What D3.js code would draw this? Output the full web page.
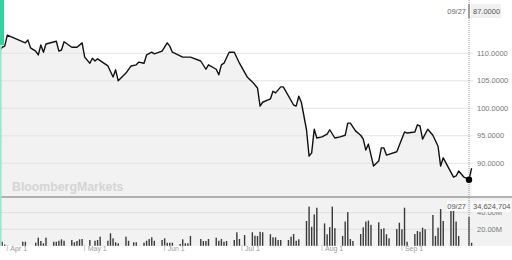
<!DOCTYPE html>
<html>
<head>
<meta charset="utf-8">
<script src="https://cdn.jsdelivr.net/npm/d3@7"></script>
<style>
  body { margin: 0; background: #fff; }
  svg { display: block; font-family: "Liberation Sans", Arial, sans-serif; }
</style>
</head>
<body>
<svg id="chart" width="512" height="260"></svg>
<script>
// closing prices
var priceDates = ["2021-03-29","2021-03-30","2021-03-31","2021-04-01","2021-04-08","2021-04-09","2021-04-10",
  "2021-04-12","2021-04-13","2021-04-14","2021-04-15","2021-04-16","2021-04-20","2021-04-21","2021-04-22",
  "2021-04-23","2021-04-26","2021-04-28","2021-04-30","2021-05-01","2021-05-03","2021-05-04","2021-05-05",
  "2021-05-06","2021-05-10","2021-05-12","2021-05-13","2021-05-14","2021-05-17","2021-05-19","2021-05-21",
  "2021-05-22","2021-05-24","2021-05-25","2021-05-27","2021-05-28","2021-05-31","2021-06-02","2021-06-03",
  "2021-06-04","2021-06-08","2021-06-11","2021-06-15","2021-06-17","2021-06-18","2021-06-21","2021-06-22",
  "2021-06-23","2021-06-24","2021-06-26","2021-06-28","2021-06-30","2021-07-03","2021-07-05","2021-07-07",
  "2021-07-08","2021-07-09","2021-07-12","2021-07-13","2021-07-14","2021-07-16","2021-07-17","2021-07-21",
  "2021-07-22","2021-07-23","2021-07-24","2021-07-26","2021-07-27","2021-07-28","2021-07-29","2021-07-30",
  "2021-08-01","2021-08-03","2021-08-04","2021-08-06","2021-08-08","2021-08-10","2021-08-11","2021-08-12",
  "2021-08-14","2021-08-16","2021-08-17","2021-08-18","2021-08-19","2021-08-21","2021-08-23","2021-08-24",
  "2021-08-25","2021-08-26","2021-08-30","2021-09-02","2021-09-03","2021-09-06","2021-09-07","2021-09-08",
  "2021-09-09","2021-09-11","2021-09-13","2021-09-15","2021-09-16","2021-09-17","2021-09-21","2021-09-22",
  "2021-09-23","2021-09-25","2021-09-26","2021-09-27","2021-09-28"];
var priceValues = [110.5,111.1,111.3,113.3,111.9,112.4,111.0,
  110.4,109.7,111.5,110.2,111.7,112.2,110.4,110.6,
  112.1,111.1,111.1,111.9,109.3,108.2,109.1,108.6,
  109.0,107.7,105.7,107.0,105.0,106.4,107.7,107.9,
  108.4,108.2,109.7,110.2,109.9,110.4,111.9,111.3,
  110.2,109.3,109.3,108.6,107.1,107.9,107.1,106.1,
  107.9,108.2,110.2,110.2,108.2,105.7,104.8,103.7,
  100.4,101.1,101.7,103.1,102.8,103.9,103.9,100.6,
  100.4,102.2,101.1,96.1,91.3,91.9,96.2,94.6,
  94.8,95.3,96.1,94.6,94.8,95.1,97.3,97.3,
  95.9,95.1,94.4,92.4,93.5,89.5,90.4,92.8,
  92.8,91.5,92.1,95.7,95.5,95.7,97.0,96.8,
  94.4,96.2,95.1,93.1,89.5,91.0,87.5,87.7,
  88.6,87.5,87.3,87.0,89.1];

// daily volume, millions of shares
var volumeDates = ["2021-03-30","2021-03-31","2021-04-07","2021-04-08",
  "2021-04-12","2021-04-13","2021-04-14","2021-04-15","2021-04-16",
  "2021-04-19","2021-04-20","2021-04-21","2021-04-22","2021-04-23",
  "2021-04-26","2021-04-27","2021-04-28","2021-04-29","2021-04-30",
  "2021-05-03","2021-05-05","2021-05-06","2021-05-07",
  "2021-05-10","2021-05-11","2021-05-12","2021-05-13","2021-05-14",
  "2021-05-17","2021-05-18","2021-05-20","2021-05-21",
  "2021-05-24","2021-05-25","2021-05-26","2021-05-27","2021-05-28",
  "2021-05-31","2021-06-01","2021-06-02","2021-06-03","2021-06-04",
  "2021-06-07","2021-06-08","2021-06-09","2021-06-10","2021-06-11",
  "2021-06-15","2021-06-16","2021-06-17","2021-06-18",
  "2021-06-21","2021-06-22","2021-06-23","2021-06-24","2021-06-25",
  "2021-06-28","2021-06-29","2021-06-30","2021-07-02",
  "2021-07-05","2021-07-06","2021-07-07","2021-07-08","2021-07-09",
  "2021-07-12","2021-07-13","2021-07-14","2021-07-15","2021-07-16",
  "2021-07-19","2021-07-20","2021-07-21","2021-07-22","2021-07-23",
  "2021-07-26","2021-07-27","2021-07-28","2021-07-29","2021-07-30",
  "2021-08-02","2021-08-03","2021-08-04","2021-08-05","2021-08-06",
  "2021-08-09","2021-08-10","2021-08-11","2021-08-12","2021-08-13",
  "2021-08-16","2021-08-17","2021-08-18","2021-08-19","2021-08-20",
  "2021-08-23","2021-08-24","2021-08-25","2021-08-26","2021-08-27",
  "2021-08-30","2021-08-31","2021-09-01","2021-09-02","2021-09-03",
  "2021-09-06","2021-09-07","2021-09-08","2021-09-09","2021-09-10",
  "2021-09-13","2021-09-14","2021-09-15","2021-09-16","2021-09-17",
  "2021-09-20","2021-09-21","2021-09-22","2021-09-23","2021-09-27","2021-09-28"];
var volumeValues = [4.9,1.5,4.9,4.9,
  3.7,9.8,5.8,3.0,9.8,
  4.9,4.9,6.1,7.8,6.1,
  7.0,4.2,5.8,7.8,8.2,
  7.0,6.1,7.0,11.0,
  6.1,15.1,9.0,4.2,3.0,
  11.0,6.1,4.2,4.2,
  3.7,6.1,8.2,10.2,6.1,
  7.0,9.0,3.7,3.7,3.7,
  2.2,7.8,3.0,3.0,11.9,
  8.2,5.8,5.8,8.2,
  9.8,6.1,8.2,4.9,5.8,
  7.0,16.3,8.2,13.0,
  16.3,12.2,11.8,16.9,16.3,
  13.9,10.2,10.2,7.0,7.0,
  7.0,11.0,14.2,6.1,7.8,
  29.9,47.2,22.9,37.8,45.9,
  27.0,13.9,22.5,47.2,21.3,
  11.9,29.3,40.6,8.2,5.8,
  14.2,22.3,29.2,30.4,25.3,
  28.3,20.2,21.1,13.9,9.0,
  20.2,27.8,19.9,45.9,4.9,
  14.2,17.8,16.9,21.8,19.9,
  37.1,11.9,21.8,44.3,29.9,
  46.0,46.0,29.2,11.8,34.624704,3.7];

var priceTicks = [90, 95, 100, 105, 110];
var volumeTicks = [20, 40];
var monthTicks = ["2021-04-01","2021-05-01","2021-06-01","2021-07-01","2021-08-01","2021-09-01"];
var lastDate = "2021-09-27";
var lastPrice = 87.0;
var lastVolume = 34624704;

var parse = d3.utcParse("%Y-%m-%d");
var parseHour = d3.utcParse("%Y-%m-%dT%H");

var svg = d3.select("#chart");
var W = 512;
var plotRight = 469;
var priceBottom = 197;
var volTop = 197;
var volBottom = 246;

var x = d3.scaleUtc()
  .domain([parseHour("2021-03-29T04"), parse(lastDate)])
  .range([0, plotRight]);
var y = d3.scaleLinear().domain([90, 110]).range([163.3, 53.3]);
var yv = d3.scaleLinear().domain([0, 40]).range([245.8, 212.6]);

var prices = priceDates.map(function(d, i) { return { date: parse(d), value: priceValues[i] }; });
var volumes = volumeDates.map(function(d, i) { return { date: parse(d), value: volumeValues[i] }; });

svg.append("clipPath").attr("id", "clipPrice")
  .append("rect").attr("x", 0).attr("y", 0).attr("width", 476).attr("height", priceBottom);
svg.append("clipPath").attr("id", "clipVol")
  .append("rect").attr("x", 0).attr("y", volTop).attr("width", 476).attr("height", volBottom - volTop);

// volume panel background
svg.append("rect")
  .attr("x", 0).attr("y", volTop)
  .attr("width", W).attr("height", volBottom - volTop)
  .attr("fill", "#f2f2f2");

// area under price
var area = d3.area()
  .x(function(d) { return x(d.date); })
  .y0(priceBottom)
  .y1(function(d) { return y(d.value); });
svg.append("path")
  .datum(prices)
  .attr("clip-path", "url(#clipPrice)")
  .attr("d", area)
  .attr("fill", "#f2f2f2");

// price grid + labels
var pAxis = svg.append("g");
priceTicks.forEach(function(t) {
  pAxis.append("line")
    .attr("x1", 0).attr("x2", 473)
    .attr("y1", y(t)).attr("y2", y(t))
    .attr("stroke", "#e3e3e3").attr("stroke-width", 1);
  pAxis.append("text")
    .attr("x", 477).attr("y", y(t) + 2.5)
    .attr("font-size", 7.5).attr("fill", "#777")
    .text(d3.format(".4f")(t));
});

// volume grid + labels
volumeTicks.forEach(function(t) {
  svg.append("line")
    .attr("x1", 0).attr("x2", 473)
    .attr("y1", yv(t)).attr("y2", yv(t))
    .attr("stroke", "#e0e0e0").attr("stroke-width", 1);
  svg.append("text")
    .attr("x", 477).attr("y", yv(t) + 2.5)
    .attr("font-size", 7.5).attr("fill", "#777")
    .text(d3.format(".2f")(t) + "M");
});

// watermark
svg.append("text")
  .attr("x", 12).attr("y", 191)
  .attr("font-size", 12.3).attr("font-weight", "bold")
  .attr("fill", "#d4d4d4")
  .text("BloombergMarkets");

// price line
var line = d3.line()
  .x(function(d) { return x(d.date); })
  .y(function(d) { return y(d.value); });
svg.append("path")
  .datum(prices)
  .attr("clip-path", "url(#clipPrice)")
  .attr("d", line)
  .attr("fill", "none")
  .attr("stroke", "#111")
  .attr("stroke-width", 1.4)
  .attr("stroke-linejoin", "round");

// volume bars
svg.append("g")
  .attr("clip-path", "url(#clipVol)")
  .selectAll("rect")
  .data(volumes)
  .join("rect")
  .attr("x", function(d) { return x(d.date) - 0.7; })
  .attr("y", function(d) { return yv(d.value); })
  .attr("width", 1.4)
  .attr("height", function(d) { return yv(0) - yv(d.value); })
  .attr("fill", "#3a3a3a");

// panel separator
svg.append("line")
  .attr("x1", 0).attr("x2", W)
  .attr("y1", priceBottom).attr("y2", priceBottom)
  .attr("stroke", "#9a9a9a").attr("stroke-width", 1.5);

// x axis
monthTicks.forEach(function(m) {
  var xm = x(parse(m));
  svg.append("line")
    .attr("x1", xm).attr("x2", xm)
    .attr("y1", 245).attr("y2", 251)
    .attr("stroke", "#bbb").attr("stroke-width", 0.8);
  svg.append("text")
    .attr("x", xm + 3).attr("y", 250.5)
    .attr("font-size", 7).attr("fill", "#9a9a9a")
    .text(d3.utcFormat("%b")(parse(m)) + " 1");
});

// crosshair at last date
var xl = x(parse(lastDate));
svg.append("line")
  .attr("x1", xl).attr("x2", xl)
  .attr("y1", 0).attr("y2", volBottom)
  .attr("stroke", "#999").attr("stroke-width", 1)
  .attr("stroke-dasharray", "1,1");
svg.append("line")
  .attr("x1", xl).attr("x2", xl)
  .attr("y1", 4).attr("y2", 18)
  .attr("stroke", "#888").attr("stroke-width", 1.5);

svg.append("circle")
  .attr("cx", xl).attr("cy", y(lastPrice))
  .attr("r", 3.2).attr("fill", "#000");

// top readout
svg.append("rect")
  .attr("x", 471).attr("y", 4).attr("width", 30).attr("height", 14)
  .attr("fill", "#f0f0f0");
svg.append("text")
  .attr("x", 473).attr("y", 13.5)
  .attr("font-size", 7.5).attr("fill", "#555")
  .text(d3.format(".4f")(lastPrice));
svg.append("text")
  .attr("x", xl - 3).attr("y", 13.5)
  .attr("text-anchor", "end")
  .attr("font-size", 7.5).attr("fill", "#666")
  .text(d3.utcFormat("%m/%d")(parse(lastDate)));

// volume readout
svg.append("rect")
  .attr("x", 447).attr("y", 201).attr("width", 20).attr("height", 10)
  .attr("fill", "#fafafa");
svg.append("rect")
  .attr("x", 471).attr("y", 201).attr("width", 40).attr("height", 11)
  .attr("fill", "#fafafa");
svg.append("text")
  .attr("x", xl - 3).attr("y", 209)
  .attr("text-anchor", "end")
  .attr("font-size", 7.5).attr("fill", "#555")
  .text(d3.utcFormat("%m/%d")(parse(lastDate)));
svg.append("text")
  .attr("x", 473).attr("y", 209)
  .attr("font-size", 7.5).attr("fill", "#555")
  .text(d3.format(",")(lastVolume));

// green strip on the left edge
svg.append("line")
  .attr("x1", 0.8).attr("x2", 0.8)
  .attr("y1", 0).attr("y2", volBottom)
  .attr("stroke", "#9be8c9").attr("stroke-width", 1.6);
svg.append("rect")
  .attr("x", 0).attr("y", 0).attr("width", 4).attr("height", 45)
  .attr("fill", "#2fd39c");
</script>
</body>
</html>
